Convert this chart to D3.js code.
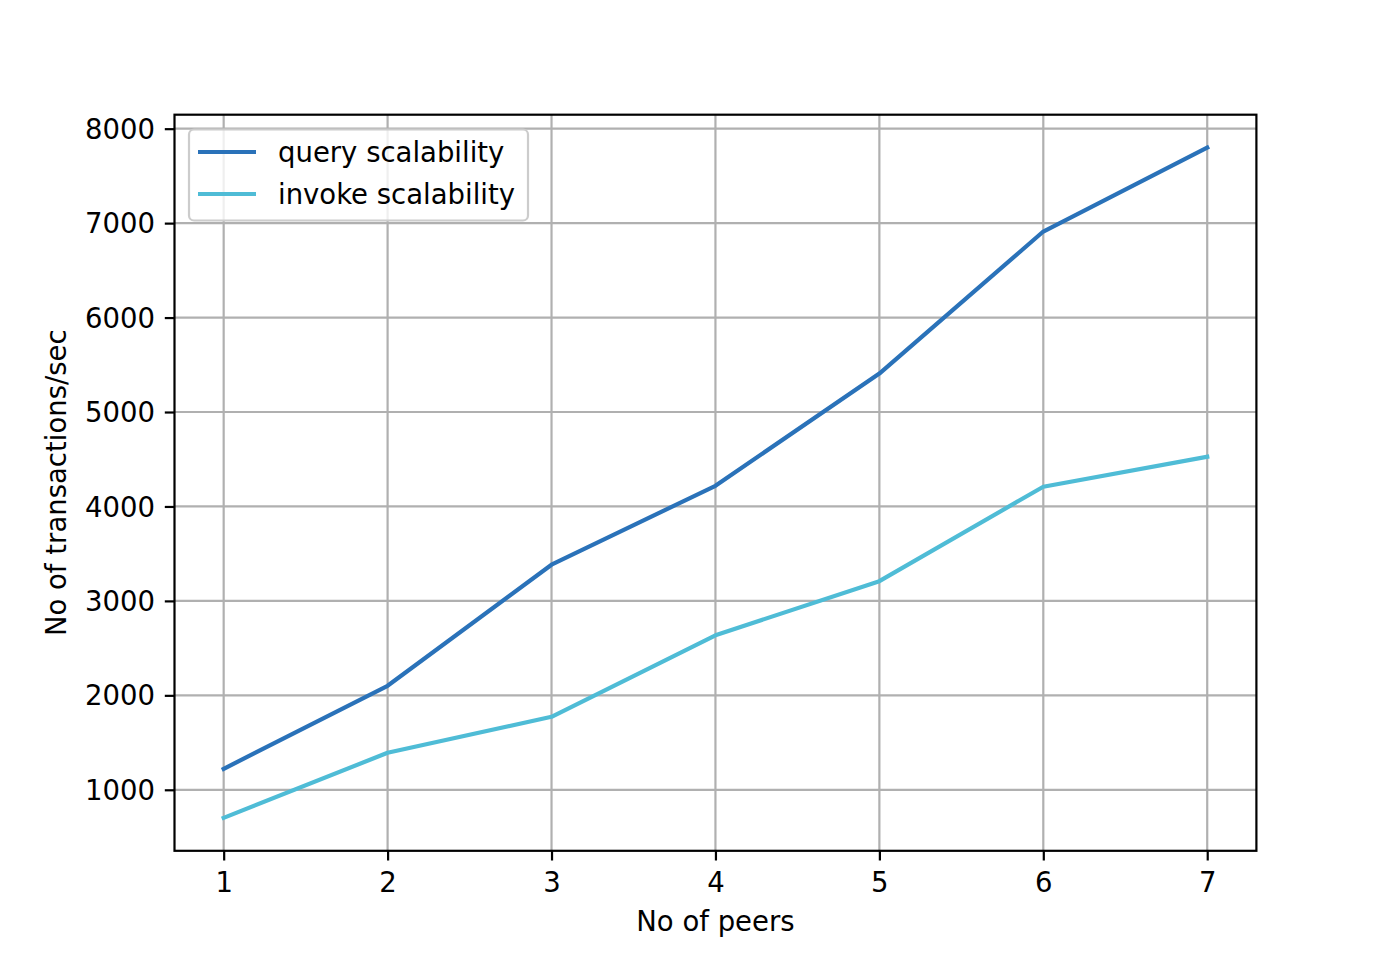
<!DOCTYPE html>
<html><head><meta charset="utf-8">
<script src="https://cdn.jsdelivr.net/npm/d3@7"></script>
<style>html,body{margin:0;padding:0;background:#fff;}svg{display:block;font-family:"DejaVu Sans",sans-serif;}</style>
</head><body>
<svg id="c" width="1396" height="956"></svg>
<script>
const peers = [1, 2, 3, 4, 5, 6, 7];
const queryScalability = [1222, 2101, 3383, 4219, 5407, 6911, 7799];
const invokeScalability = [703, 1392, 1773, 2636, 3209, 4209, 4526];
const xTicks = [1, 2, 3, 4, 5, 6, 7];
const yTicks = [1000, 2000, 3000, 4000, 5000, 6000, 7000, 8000];
const seriesNames = ["query scalability", "invoke scalability"];
const seriesColors = ["#2a72b9", "#4fbcd6"];

const svg = d3.select("#c");
const L = 174.5, R = 1256.4, T = 114.7, B = 850.8;
const x = d3.scaleLinear().domain([0.7, 7.3]).range([L, R]);
const y = d3.scaleLinear().domain([354, 8148]).range([B, T]);
const fs = 27.5;

// grid
const g = svg.append("g");
g.selectAll(".gx").data(xTicks).enter().append("line")
  .attr("x1", d => x(d)).attr("x2", d => x(d)).attr("y1", T).attr("y2", B)
  .attr("stroke", "#b0b0b0").attr("stroke-width", 2.2);
g.selectAll(".gy").data(yTicks).enter().append("line")
  .attr("y1", d => y(d)).attr("y2", d => y(d)).attr("x1", L).attr("x2", R)
  .attr("stroke", "#b0b0b0").attr("stroke-width", 2.2);

// lines
const series = [queryScalability, invokeScalability];
const line = d3.line().x((d, i) => x(peers[i])).y(d => y(d));
series.forEach((s, k) => {
  svg.append("path").datum(s).attr("d", line).attr("fill", "none")
    .attr("stroke", seriesColors[k]).attr("stroke-width", 4.2)
    .attr("stroke-linecap", "square").attr("stroke-linejoin", "round");
});

// axes
const xAxis = d3.axisBottom(x).tickValues(xTicks).tickSize(9.7).tickPadding(11.5).tickFormat(d3.format("d"));
const yAxis = d3.axisLeft(y).tickValues(yTicks).tickSize(9.7).tickPadding(9.7).tickFormat(d3.format("d"));
const ax = svg.append("g").attr("transform", `translate(0,${B})`).call(xAxis);
const ay = svg.append("g").attr("transform", `translate(${L},0)`).call(yAxis);
[ax, ay].forEach(a => {
  a.select(".domain").remove();
  a.selectAll("line").attr("stroke", "#000").attr("stroke-width", 2.2);
  a.selectAll("text").attr("font-size", fs).attr("fill", "#000").attr("font-family", "DejaVu Sans");
});
ay.selectAll("text").attr("dy", "0.35em");

// frame
svg.append("rect").attr("x", L).attr("y", T).attr("width", R - L).attr("height", B - T)
  .attr("fill", "none").attr("stroke", "#000").attr("stroke-width", 2.2);

// labels
svg.append("text").attr("x", (L + R) / 2).attr("y", 931).attr("text-anchor", "middle")
  .attr("font-size", fs).text("No of peers");
svg.append("text").attr("transform", `translate(66,${(T + B) / 2}) rotate(-90)`).attr("text-anchor", "middle")
  .attr("font-size", fs).text("No of transactions/sec");

// legend
const lg = svg.append("g");
lg.append("rect").attr("x", 189).attr("y", 129.5).attr("width", 339).attr("height", 91).attr("rx", 5)
  .attr("fill", "#fff").attr("fill-opacity", 0.8).attr("stroke", "#cccccc").attr("stroke-width", 2.2);
seriesNames.forEach((n, k) => {
  const yy = 152 + k * 42;
  lg.append("line").attr("x1", 198).attr("x2", 256).attr("y1", yy).attr("y2", yy)
    .attr("stroke", seriesColors[k]).attr("stroke-width", 4.2);
  lg.append("text").attr("x", 278).attr("y", yy).attr("dy", "0.35em").attr("font-size", fs).text(n);
});
</script>
</body></html>
